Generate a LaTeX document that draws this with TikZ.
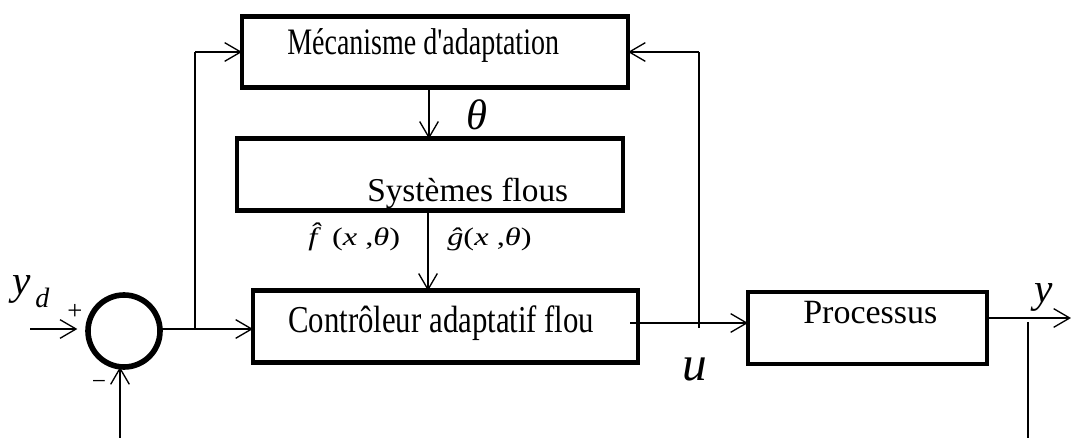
\documentclass[tikz,border=0pt]{standalone}
\usepackage{fontspec}
\setmainfont{Liberation Serif}
\newfontfamily\narrowA{Liberation Serif}[FakeStretch=0.75]
\newfontfamily\narrowB{Liberation Serif}[FakeStretch=0.81]
\newfontfamily\wideL{Liberation Serif}[FakeStretch=1.28]
\usetikzlibrary{arrows.meta}
\tikzset{
  blockbox/.style={draw, line width=3.6pt, inner sep=0pt, outer sep=0pt},
  sumcircle/.style={draw, circle, line width=4.2pt, minimum size=54pt, inner sep=0pt, outer sep=0pt},
  conn/.style={line width=1pt},
  arr/.style={conn, -{Straight Barb[length=12pt, width=14pt, line width=1pt]}},
  txt/.style={inner sep=0pt, anchor=base west},
}
\begin{document}
\begin{tikzpicture}[x=0.75pt, y=-0.75pt]
\useasboundingbox (0,0) rectangle (1071,438);
% blocks
\node[blockbox, minimum width=289.5pt, minimum height=53.5pt] (mec) at (435,52) {};
\node[blockbox, minimum width=289.5pt, minimum height=53.5pt] (sys) at (430,174.5) {};
\node[blockbox, minimum width=288.75pt, minimum height=53.5pt] (ctl) at (445.5,326.5) {};
\node[blockbox, minimum width=179.25pt, minimum height=54pt] (proc) at (867.5,328) {};
\node[sumcircle] (sum) at (124,331) {};
% block texts
\node[txt] (tmec) at (287,55) {\narrowA\fontsize{28}{32}\selectfont Mécanisme d'adaptation};
\node[txt] (tsys) at (367,202) {\fontsize{25}{28}\selectfont Systèmes flous};
\node[txt] (tctl) at (288,333) {\narrowB\fontsize{28.5}{32}\selectfont Contrôleur adaptatif flou};
\node[txt] (tproc) at (803,324) {\fontsize{25.5}{28}\selectfont Processus};
% labels
\node[txt] (lth) at (466,130) {\fontsize{32}{34}\selectfont\itshape θ};
\node[txt] (lu) at (682,380) {\fontsize{37}{40}\selectfont\itshape u};
\node[txt] (lyd) at (12,295) {\fontsize{31}{33}\selectfont\itshape y};
\node[txt] (ld) at (35,308) {\fontsize{21}{23}\selectfont\itshape d};
\node[txt] (ly) at (1034,303) {\fontsize{31}{33}\selectfont\itshape y};
\node[inner sep=0pt] (lplus) at (75,312) {\fontsize{20}{22}\selectfont +};
\node[inner sep=0pt] (lminus) at (99,385) {\fontsize{19}{21}\selectfont −};
\node[txt] (lf) at (308,246) {\wideL\fontsize{19}{22}\selectfont\textit{f̂}\kern2pt(\textit{x} ,\textit{θ})};
\node[txt] (lg) at (447,246) {\wideL\fontsize{19}{22}\selectfont\textit{ĝ}(\textit{x} ,\textit{θ})};
% coordinates
\coordinate (yin) at (30,329);
\coordinate (b1) at (195,329);
\coordinate (u0) at (630,323);
\coordinate (ub) at (699,328);
\coordinate (yout) at (1071,318);
\coordinate (fy) at (1028,322);
\coordinate (fyb) at (1028,438);
\coordinate (fb) at (120,438);
% connectors
\draw[arr, shorten >=8pt] (yin) -- (yin -| sum.west);
\draw[arr] (sum.east |- b1) -- (b1 -| ctl.west);
\draw[conn] (b1) -- (b1 |- mec.west);
\draw[arr] (b1 |- mec.west) -- (mec.west);
\draw[arr] ([xshift=-4.5pt]mec.south) -- ([xshift=-4.5pt]mec.south |- sys.north);
\draw[arr] ([xshift=-1.5pt]sys.south) -- ([xshift=-1.5pt]sys.south |- ctl.north);
\draw[arr] (u0) -- (u0 -| proc.west);
\draw[conn] (ub) -- (ub |- mec.east);
\draw[arr] (ub |- mec.east) -- (mec.east);
\draw[arr] (yout -| proc.east) -- (yout);
\draw[conn] (fy) -- (fyb);
\draw[arr] (fb) -- (fb |- sum.south);
\end{tikzpicture}
\end{document}
